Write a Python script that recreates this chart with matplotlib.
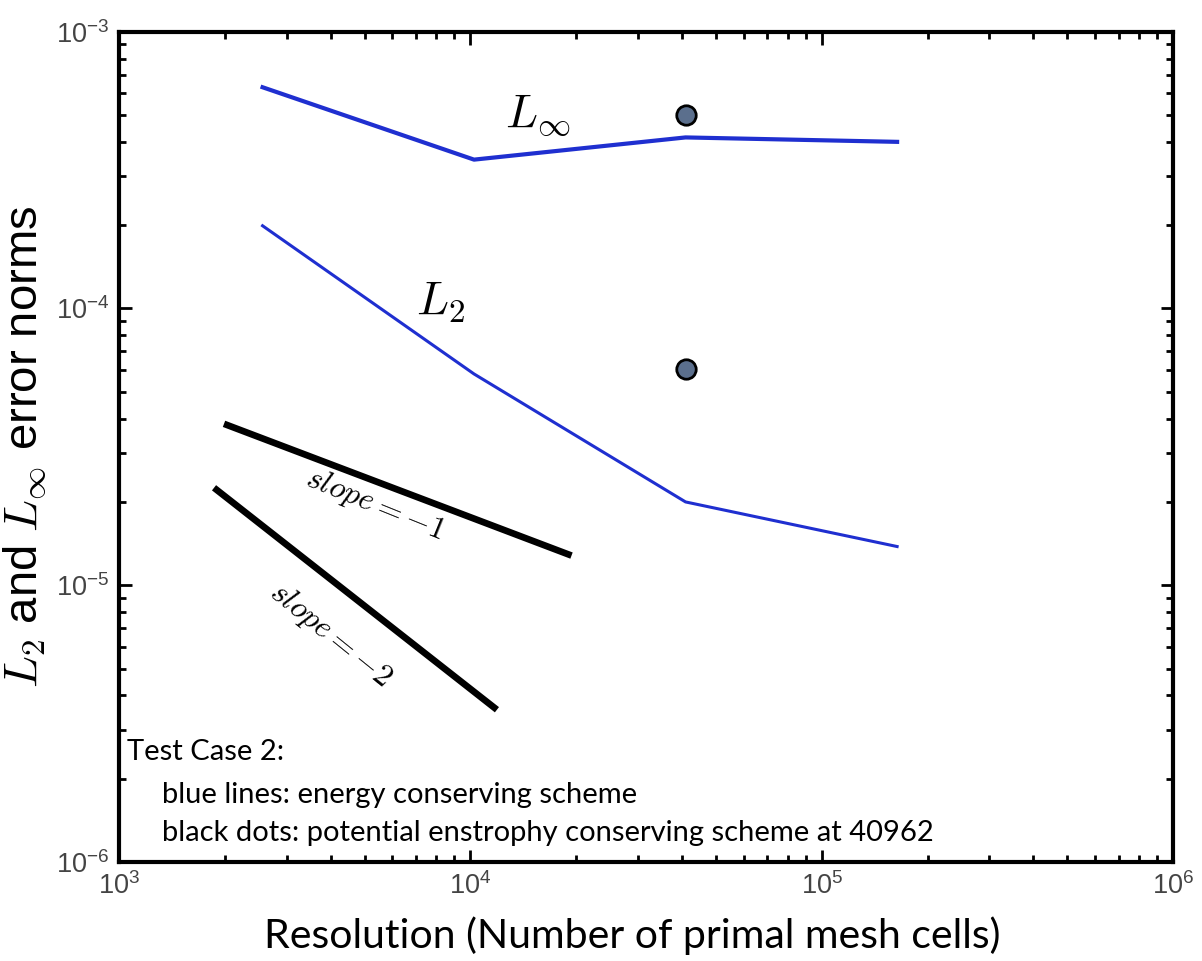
import matplotlib
matplotlib.use('Agg')
import matplotlib.pyplot as plt
from matplotlib.ticker import LogLocator
import numpy as np

plt.rcParams['mathtext.fontset'] = 'cm'
plt.rcParams['mathtext.rm'] = 'Liberation Sans'
plt.rcParams['mathtext.it'] = 'Liberation Sans:italic'

# mesh resolutions (number of primal cells)
cells = [2562, 10242, 40962, 163842]
# energy conserving scheme
linf_energy = [6.3e-4, 3.45e-4, 4.15e-4, 4.0e-4]
l2_energy = [1.99e-4, 5.8e-5, 2.0e-5, 1.38e-5]
# potential enstrophy conserving scheme at 40962
pe_cells = [40962, 40962]
pe_errors = [5.0e-4, 6.05e-5]
# reference slopes
slope1_x = [1990, 19400]
slope1_y = [3.83e-5, 1.28e-5]
slope2_x = [1864, 11900]
slope2_y = [2.25e-5, 3.55e-6]
# tick positions
xticks = [1e3, 1e4, 1e5, 1e6]
yticks = [1e-6, 1e-5, 1e-4, 1e-3]

fig = plt.figure(figsize=(12.02, 9.61), dpi=100)
ax = fig.add_axes([0.099, 0.103, 0.877, 0.864])

blue = '#1f2fd0'
ax.plot(cells, linf_energy, color=blue, lw=3.0)
ax.plot(cells, l2_energy, color=blue, lw=2.2)
ax.plot(pe_cells, pe_errors, 'o', ms=14, mfc='#5b6f8d', mec='black', mew=2, ls='none')
ax.plot(slope1_x, slope1_y, color='black', lw=4.8, solid_capstyle='butt')
ax.plot(slope2_x, slope2_y, color='black', lw=4.8, solid_capstyle='butt')

ax.set_xscale('log')
ax.set_yscale('log')
ax.set_xlim(1e3, 1e6)
ax.set_ylim(1e-6, 1e-3)

ax.xaxis.set_minor_locator(LogLocator(base=10, subs=np.arange(2, 10), numticks=10))
ax.yaxis.set_minor_locator(LogLocator(base=10, subs=np.arange(2, 10), numticks=10))
ax.set_xticks(xticks)
ax.set_yticks(yticks)
ax.set_xticklabels([r'$\mathrm{10^{%d}}$' % round(np.log10(v)) for v in xticks],
                   math_fontfamily='custom')
ax.set_yticklabels([r'$\mathrm{10^{%d}}$' % round(np.log10(v)) for v in yticks],
                   math_fontfamily='custom')

ax.tick_params(which='both', direction='in', top=True, right=True, width=2,
               colors='black', labelcolor='#444444', labelsize=19.5)
ax.tick_params(which='major', length=9, pad=7)
ax.tick_params(which='minor', length=5)
for s in ax.spines.values():
    s.set_linewidth(3)

ax.text(8200, 1.05e-4, r'$L_2$', fontsize=34, ha='center', va='center')
ax.text(15500, 4.95e-4, r'$L_\infty$', fontsize=34, ha='center', va='center')
ax.text(5350, 1.95e-5, r'$slope = -1$', fontsize=23, rotation=-22,
        ha='center', va='center')
ax.text(4000, 6.6e-6, r'$slope = -2$', fontsize=23, rotation=-39,
        ha='center', va='center')

ax.text(0.0076, 0.1325, 'Test Case 2:', transform=ax.transAxes, fontsize=21,
        family='Lato', ha='left', va='center')
ax.text(0.0408, 0.0807, 'blue lines: energy conserving scheme', transform=ax.transAxes,
        fontsize=21, family='Lato', ha='left', va='center')
ax.text(0.0408, 0.035, 'black dots: potential enstrophy conserving scheme at 40962',
        transform=ax.transAxes, fontsize=21, family='Lato', ha='left', va='center')

ax.set_xlabel('Resolution (Number of primal mesh cells)', fontsize=29.5,
              family='Lato')
ax.xaxis.set_label_coords(0.487, -0.065)
ax.set_ylabel(r'$L_2$ and $L_\infty$ error norms', fontsize=34,
              family='Liberation Sans')
ax.yaxis.set_label_coords(-0.066, 0.5)

fig.savefig('out.png', dpi=100)
